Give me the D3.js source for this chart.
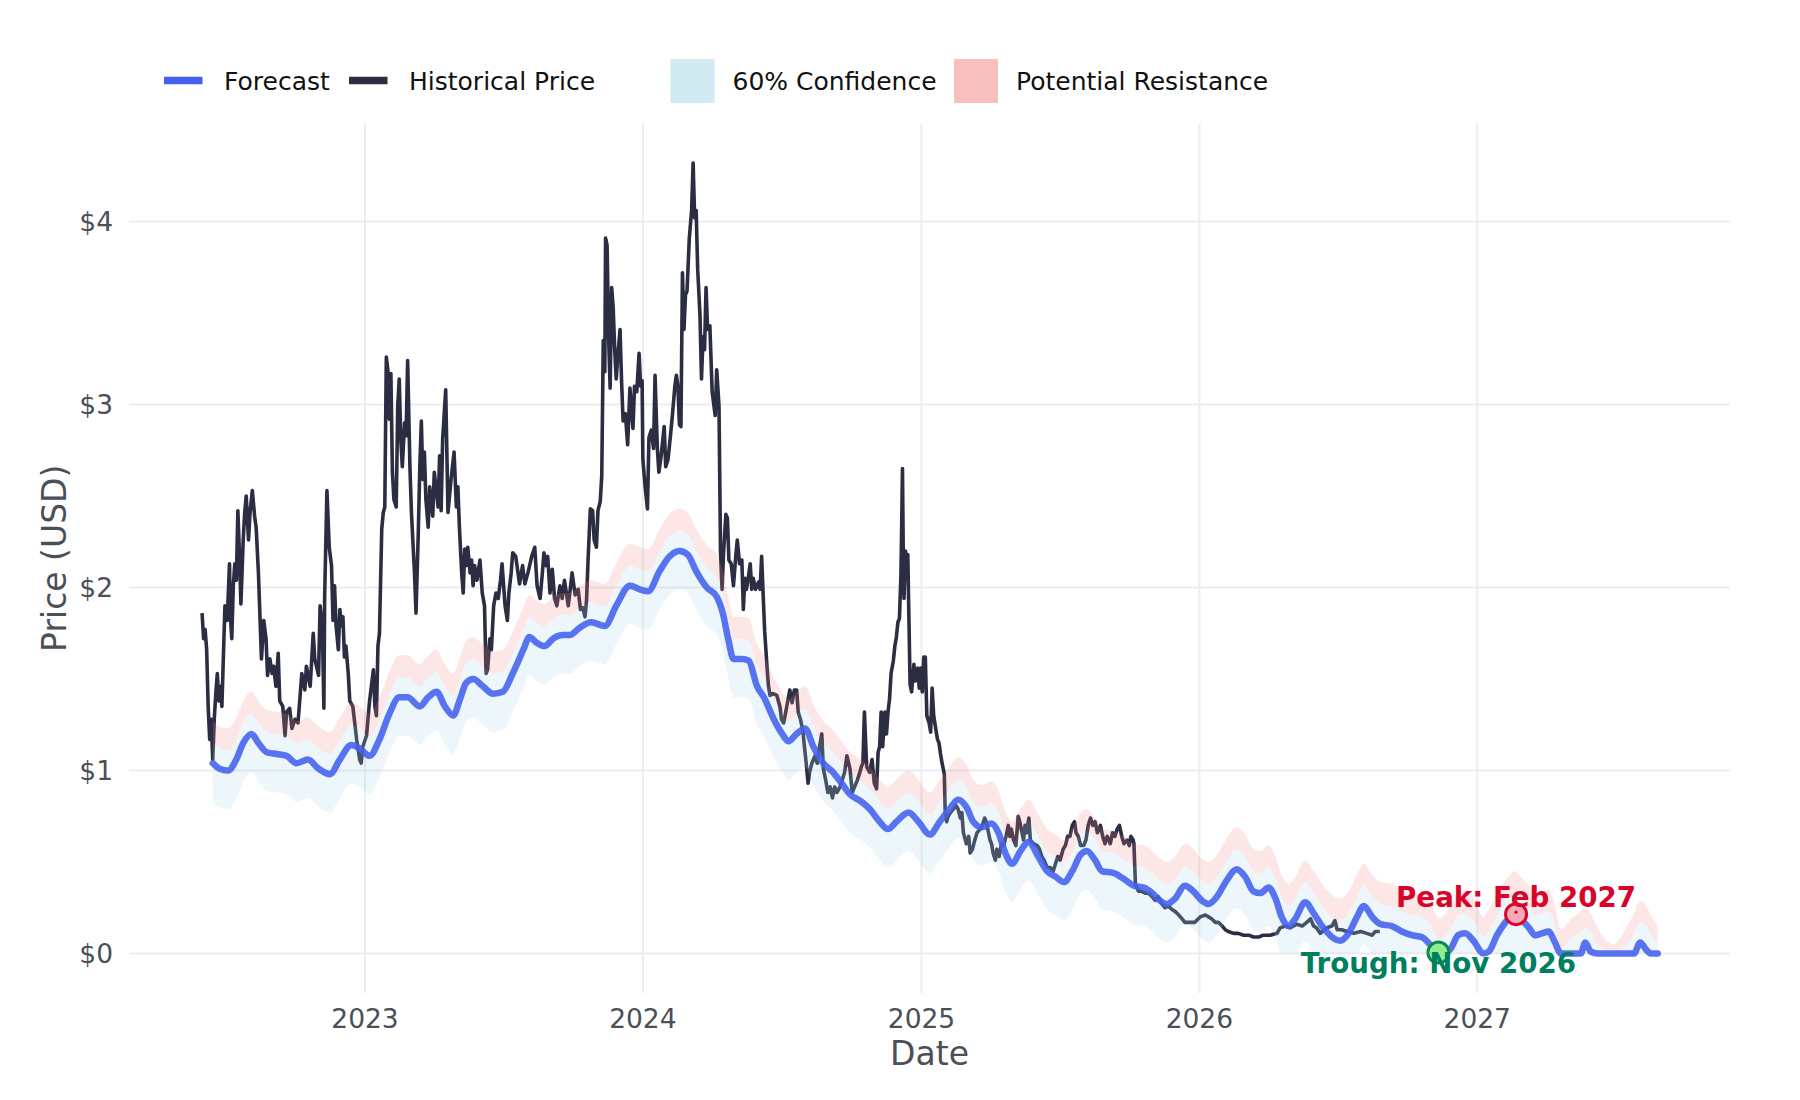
<!DOCTYPE html>
<html>
<head>
<meta charset="utf-8">
<script src="https://cdn.jsdelivr.net/npm/d3@7"></script>
<style>
  html, body { margin: 0; padding: 0; background: #fff; }
  svg text { font-family: "DejaVu Sans", sans-serif; }
</style>
</head>
<body>
<svg id="chart" width="1800" height="1100"></svg>
<script>
// historical closing price
const historical = [
  ["2022-06-01",1.86],["2022-06-03",1.72],["2022-06-05",1.77],["2022-06-07",1.66],["2022-06-09",1.35],
  ["2022-06-11",1.17],["2022-06-13",1.28],["2022-06-15",1.06],["2022-06-17",1.28],["2022-06-19",1.42],
  ["2022-06-21",1.53],["2022-06-23",1.38],["2022-06-25",1.46],["2022-06-27",1.35],["2022-07-01",1.90],
  ["2022-07-04",1.82],["2022-07-07",2.13],["2022-07-08",1.86],["2022-07-10",1.72],["2022-07-12",2.01],
  ["2022-07-14",2.13],["2022-07-16",2.04],["2022-07-18",2.42],["2022-07-20",2.19],["2022-07-22",1.91],
  ["2022-07-25",2.26],["2022-07-27",2.41],["2022-07-29",2.50],["2022-08-01",2.26],["2022-08-03",2.41],
  ["2022-08-06",2.53],["2022-08-09",2.39],["2022-08-11",2.33],["2022-08-14",2.08],["2022-08-18",1.61],
  ["2022-08-21",1.82],["2022-08-24",1.72],["2022-08-26",1.52],["2022-08-29",1.61],["2022-09-01",1.53],
  ["2022-09-03",1.57],["2022-09-06",1.46],["2022-09-09",1.64],["2022-09-11",1.38],["2022-09-15",1.35],
  ["2022-09-18",1.19],["2022-09-20",1.32],["2022-09-24",1.34],["2022-09-27",1.23],["2022-10-01",1.28],
  ["2022-10-05",1.26],["2022-10-10",1.53],["2022-10-14",1.44],["2022-10-16",1.57],["2022-10-21",1.46],
  ["2022-10-25",1.75],["2022-10-27",1.61],["2022-11-01",1.52],["2022-11-03",1.90],["2022-11-06",1.79],
  ["2022-11-08",1.34],["2022-11-09",1.95],["2022-11-12",2.53],["2022-11-15",2.22],["2022-11-18",2.12],
  ["2022-11-20",1.82],["2022-11-22",2.01],["2022-11-24",1.79],["2022-11-27",1.66],["2022-11-29",1.88],
  ["2022-12-01",1.79],["2022-12-03",1.84],["2022-12-05",1.62],["2022-12-07",1.68],["2022-12-10",1.53],
  ["2022-12-12",1.38],["2022-12-16",1.35],["2022-12-21",1.17],["2022-12-25",1.06],["2022-12-27",1.04],
  ["2022-12-29",1.13],["2023-01-03",1.19],["2023-01-07",1.38],["2023-01-12",1.55],["2023-01-14",1.35],
  ["2023-01-16",1.30],["2023-01-18",1.68],["2023-01-20",1.75],["2023-01-23",2.32],["2023-01-25",2.41],
  ["2023-01-27",2.44],["2023-01-29",3.26],["2023-01-31",3.19],["2023-02-02",2.92],["2023-02-04",3.17],
  ["2023-02-06",2.63],["2023-02-08",2.48],["2023-02-11",2.44],["2023-02-13",2.99],["2023-02-15",3.14],
  ["2023-02-17",2.81],["2023-02-19",2.66],["2023-02-22",2.90],["2023-02-24",2.83],["2023-02-26",3.24],
  ["2023-03-01",2.66],["2023-03-03",2.41],["2023-03-07",2.08],["2023-03-09",1.86],["2023-03-12",2.30],
  ["2023-03-14",2.66],["2023-03-16",2.91],["2023-03-18",2.59],["2023-03-20",2.74],["2023-03-22",2.48],
  ["2023-03-25",2.33],["2023-03-27",2.55],["2023-03-31",2.39],["2023-04-02",2.63],["2023-04-05",2.52],
  ["2023-04-07",2.44],["2023-04-09",2.72],["2023-04-11",2.42],["2023-04-13",2.81],["2023-04-17",3.08],
  ["2023-04-20",2.41],["2023-04-24",2.59],["2023-04-28",2.74],["2023-05-01",2.44],["2023-05-03",2.55],
  ["2023-05-05",2.33],["2023-05-08",2.08],["2023-05-10",1.97],["2023-05-12",2.21],["2023-05-14",2.12],
  ["2023-05-16",2.22],["2023-05-19",2.08],["2023-05-21",2.15],["2023-05-23",2.01],["2023-05-25",2.12],
  ["2023-05-28",2.04],["2023-06-01",2.15],["2023-06-04",1.97],["2023-06-07",1.90],["2023-06-09",1.53],
  ["2023-06-11",1.55],["2023-06-14",1.72],["2023-06-16",1.66],["2023-06-19",1.90],["2023-06-22",1.97],
  ["2023-06-25",1.94],["2023-06-28",2.04],["2023-06-30",2.13],["2023-07-04",1.90],["2023-07-07",1.82],
  ["2023-07-09",1.97],["2023-07-12",2.08],["2023-07-14",2.19],["2023-07-18",2.17],["2023-07-21",2.08],
  ["2023-07-23",2.02],["2023-07-27",2.12],["2023-07-30",2.02],["2023-08-03",2.08],["2023-08-08",2.17],
  ["2023-08-12",2.22],["2023-08-15",2.01],["2023-08-19",1.94],["2023-08-22",2.08],["2023-08-24",2.19],
  ["2023-08-27",2.12],["2023-08-29",2.17],["2023-09-01",1.97],["2023-09-04",2.10],["2023-09-07",1.94],
  ["2023-09-10",1.90],["2023-09-14",2.01],["2023-09-17",1.94],["2023-09-20",2.04],["2023-09-25",1.90],
  ["2023-09-27",1.97],["2023-09-30",2.08],["2023-10-04",1.96],["2023-10-08",1.99],["2023-10-11",1.88],
  ["2023-10-14",1.89],["2023-10-17",1.84],["2023-10-19",1.93],["2023-10-21",2.15],["2023-10-24",2.43],
  ["2023-10-27",2.42],["2023-10-29",2.26],["2023-11-01",2.22],["2023-11-03",2.42],["2023-11-06",2.47],
  ["2023-11-08",2.61],["2023-11-10",3.35],["2023-11-12",3.18],["2023-11-13",3.91],["2023-11-15",3.87],
  ["2023-11-17",3.37],["2023-11-19",3.09],["2023-11-21",3.64],["2023-11-23",3.53],["2023-11-25",3.30],
  ["2023-11-27",3.14],["2023-11-29",3.26],["2023-12-02",3.41],["2023-12-04",3.13],["2023-12-06",2.91],
  ["2023-12-09",2.95],["2023-12-12",2.78],["2023-12-15",3.09],["2023-12-17",2.97],["2023-12-19",2.87],
  ["2023-12-21",3.10],["2023-12-24",3.07],["2023-12-27",3.28],["2023-12-29",3.10],["2023-12-31",3.13],
  ["2024-01-01",2.70],["2024-01-04",2.55],["2024-01-07",2.43],["2024-01-09",2.82],["2024-01-12",2.86],
  ["2024-01-15",2.76],["2024-01-17",3.16],["2024-01-20",2.76],["2024-01-22",2.63],["2024-01-25",2.72],
  ["2024-01-29",2.88],["2024-01-31",2.66],["2024-02-03",2.70],["2024-02-06",2.82],["2024-02-09",2.95],
  ["2024-02-12",3.10],["2024-02-14",3.16],["2024-02-16",3.10],["2024-02-18",2.89],["2024-02-20",2.88],
  ["2024-02-22",3.72],["2024-02-24",3.41],["2024-02-26",3.60],["2024-02-28",3.62],["2024-03-02",3.91],
  ["2024-03-05",4.06],["2024-03-07",4.32],["2024-03-09",4.02],["2024-03-11",4.06],["2024-03-13",3.74],
  ["2024-03-16",3.49],["2024-03-18",3.14],["2024-03-20",3.37],["2024-03-22",3.30],["2024-03-24",3.64],
  ["2024-03-26",3.41],["2024-03-29",3.43],["2024-04-01",3.07],["2024-04-05",2.94],["2024-04-07",3.19],
  ["2024-04-10",2.99],["2024-04-12",2.19],["2024-04-14",1.99],["2024-04-16",2.19],["2024-04-19",2.40],
  ["2024-04-21",2.38],["2024-04-23",2.15],["2024-04-26",2.13],["2024-04-29",2.01],["2024-05-02",2.17],
  ["2024-05-04",2.26],["2024-05-07",2.13],["2024-05-10",2.15],["2024-05-12",1.88],["2024-05-14",2.05],
  ["2024-05-16",1.99],["2024-05-19",2.07],["2024-05-21",2.13],["2024-05-23",1.99],["2024-05-25",2.05],
  ["2024-05-28",1.99],["2024-06-01",2.03],["2024-06-03",1.99],["2024-06-05",2.17],["2024-06-07",1.96],
  ["2024-06-09",1.76],["2024-06-12",1.57],["2024-06-14",1.46],["2024-06-16",1.41],["2024-06-20",1.42],
  ["2024-06-25",1.41],["2024-06-29",1.35],["2024-07-01",1.28],["2024-07-04",1.26],["2024-07-08",1.35],
  ["2024-07-12",1.44],["2024-07-15",1.37],["2024-07-18",1.44],["2024-07-21",1.44],["2024-07-23",1.32],
  ["2024-07-26",1.28],["2024-07-29",1.22],["2024-08-01",1.10],["2024-08-03",1.02],["2024-08-05",0.93],
  ["2024-08-07",0.99],["2024-08-10",1.04],["2024-08-14",1.08],["2024-08-17",1.04],["2024-08-20",1.13],
  ["2024-08-23",1.20],["2024-08-25",1.01],["2024-08-28",0.95],["2024-08-31",0.88],["2024-09-03",0.91],
  ["2024-09-06",0.85],["2024-09-09",0.91],["2024-09-12",0.88],["2024-09-16",0.91],["2024-09-19",0.95],
  ["2024-09-22",0.99],["2024-09-25",1.08],["2024-09-29",1.01],["2024-10-02",0.88],["2024-10-05",0.91],
  ["2024-10-09",0.95],["2024-10-12",0.99],["2024-10-14",1.02],["2024-10-16",1.04],["2024-10-18",1.32],
  ["2024-10-21",1.02],["2024-10-25",0.99],["2024-10-28",1.06],["2024-10-31",0.93],["2024-11-03",0.90],
  ["2024-11-05",1.10],["2024-11-07",1.13],["2024-11-09",1.32],["2024-11-11",1.13],["2024-11-14",1.32],
  ["2024-11-16",1.20],["2024-11-18",1.32],["2024-11-20",1.39],["2024-11-22",1.53],["2024-11-25",1.60],
  ["2024-11-27",1.68],["2024-11-29",1.73],["2024-12-01",1.81],["2024-12-03",1.83],["2024-12-05",2.07],
  ["2024-12-06",2.35],["2024-12-07",2.65],["2024-12-08",2.20],["2024-12-09",1.94],["2024-12-11",2.20],
  ["2024-12-12",2.07],["2024-12-14",2.18],["2024-12-15",1.94],["2024-12-17",1.47],["2024-12-19",1.43],
  ["2024-12-22",1.58],["2024-12-24",1.49],["2024-12-27",1.56],["2024-12-29",1.45],["2024-12-31",1.56],
  ["2025-01-02",1.43],["2025-01-04",1.62],["2025-01-06",1.62],["2025-01-08",1.30],["2025-01-11",1.26],
  ["2025-01-13",1.21],["2025-01-15",1.45],["2025-01-17",1.30],["2025-01-20",1.22],["2025-01-22",1.17],
  ["2025-01-24",1.15],["2025-01-26",1.09],["2025-01-28",1.04],["2025-01-31",0.98],["2025-02-01",0.79],
  ["2025-02-03",0.72],["2025-02-05",0.75],["2025-02-08",0.77],["2025-02-12",0.79],["2025-02-15",0.81],
  ["2025-02-18",0.79],["2025-02-21",0.74],["2025-02-23",0.77],["2025-02-25",0.66],["2025-03-01",0.60],
  ["2025-03-04",0.64],["2025-03-06",0.55],["2025-03-09",0.57],["2025-03-12",0.62],["2025-03-15",0.66],
  ["2025-03-19",0.68],["2025-03-22",0.70],["2025-03-25",0.74],["2025-03-27",0.72],["2025-03-30",0.66],
  ["2025-04-01",0.62],["2025-04-03",0.60],["2025-04-05",0.55],["2025-04-08",0.51],["2025-04-10",0.57],
  ["2025-04-13",0.53],["2025-04-16",0.60],["2025-04-19",0.59],["2025-04-22",0.64],["2025-04-25",0.70],
  ["2025-04-27",0.64],["2025-04-29",0.68],["2025-05-02",0.62],["2025-05-05",0.59],["2025-05-08",0.75],
  ["2025-05-10",0.72],["2025-05-13",0.66],["2025-05-15",0.62],["2025-05-17",0.70],["2025-05-19",0.66],
  ["2025-05-22",0.74],["2025-05-24",0.62],["2025-05-28",0.60],["2025-06-02",0.59],["2025-06-05",0.57],
  ["2025-06-08",0.53],["2025-06-11",0.51],["2025-06-15",0.47],["2025-06-19",0.47],["2025-06-23",0.45],
  ["2025-06-26",0.49],["2025-06-29",0.53],["2025-07-02",0.51],["2025-07-06",0.57],["2025-07-09",0.59],
  ["2025-07-12",0.64],["2025-07-15",0.64],["2025-07-18",0.70],["2025-07-21",0.72],["2025-07-23",0.66],
  ["2025-07-26",0.64],["2025-07-29",0.59],["2025-08-02",0.59],["2025-08-05",0.62],["2025-08-08",0.70],
  ["2025-08-11",0.74],["2025-08-14",0.70],["2025-08-17",0.72],["2025-08-20",0.66],["2025-08-24",0.70],
  ["2025-08-27",0.64],["2025-08-30",0.60],["2025-09-02",0.64],["2025-09-06",0.60],["2025-09-09",0.66],
  ["2025-09-12",0.64],["2025-09-15",0.68],["2025-09-18",0.70],["2025-09-21",0.64],["2025-09-24",0.60],
  ["2025-09-28",0.62],["2025-10-01",0.59],["2025-10-03",0.64],["2025-10-06",0.62],["2025-10-07",0.60],
  ["2025-10-09",0.38],["2025-10-13",0.34],["2025-10-17",0.34],["2025-10-22",0.33],["2025-10-26",0.33],
  ["2025-10-31",0.31],["2025-11-04",0.29],["2025-11-08",0.31],["2025-11-13",0.27],["2025-11-17",0.25],
  ["2025-11-21",0.26],["2025-11-26",0.24],["2025-11-30",0.23],["2025-12-05",0.21],["2025-12-09",0.19],
  ["2025-12-13",0.17],["2025-12-18",0.17],["2025-12-22",0.17],["2025-12-26",0.17],["2026-01-02",0.20],
  ["2026-01-09",0.21],["2026-01-13",0.20],["2026-01-17",0.19],["2026-01-22",0.17],["2026-01-26",0.17],
  ["2026-01-31",0.15],["2026-02-04",0.13],["2026-02-08",0.12],["2026-02-15",0.11],["2026-02-21",0.11],
  ["2026-02-28",0.10],["2026-03-07",0.10],["2026-03-13",0.09],["2026-03-20",0.09],["2026-03-26",0.10],
  ["2026-04-04",0.10],["2026-04-13",0.11],["2026-04-17",0.14],["2026-04-24",0.15],["2026-04-30",0.14],
  ["2026-05-09",0.16],["2026-05-16",0.15],["2026-05-22",0.17],["2026-05-27",0.19],["2026-05-31",0.15],
  ["2026-06-04",0.14],["2026-06-09",0.11],["2026-06-17",0.14],["2026-06-24",0.15],["2026-06-28",0.18],
  ["2026-07-01",0.13],["2026-07-07",0.13],["2026-07-14",0.12],["2026-07-23",0.11],["2026-08-01",0.12],
  ["2026-08-09",0.11],["2026-08-16",0.10],["2026-08-20",0.12],["2026-08-26",0.12]
];

// forecast line and its bands (same dates, index by index)
const forecast = [
  ["2022-06-15",1.04],["2022-06-24",1.01],["2022-07-05",1.00],["2022-07-16",1.06],["2022-07-25",1.15],
  ["2022-08-05",1.20],["2022-08-14",1.15],["2022-08-25",1.10],["2022-09-07",1.09],["2022-09-20",1.08],
  ["2022-10-03",1.04],["2022-10-18",1.06],["2022-11-01",1.01],["2022-11-16",0.98],["2022-11-29",1.06],
  ["2022-12-14",1.14],["2022-12-25",1.12],["2023-01-07",1.08],["2023-01-20",1.17],["2023-02-02",1.31],
  ["2023-02-15",1.40],["2023-02-26",1.40],["2023-03-14",1.35],["2023-03-25",1.40],["2023-04-05",1.43],
  ["2023-04-16",1.35],["2023-04-27",1.30],["2023-05-05",1.38],["2023-05-14",1.48],["2023-05-23",1.50],
  ["2023-06-05",1.46],["2023-06-18",1.42],["2023-07-01",1.43],["2023-07-14",1.53],["2023-07-28",1.66],
  ["2023-08-05",1.73],["2023-08-14",1.70],["2023-08-25",1.68],["2023-09-05",1.72],["2023-09-18",1.74],
  ["2023-09-27",1.74],["2023-10-10",1.78],["2023-10-25",1.81],["2023-11-12",1.79],["2023-11-27",1.90],
  ["2023-12-15",2.01],["2023-12-28",1.99],["2024-01-08",1.98],["2024-01-23",2.09],["2024-02-05",2.17],
  ["2024-02-18",2.20],["2024-02-29",2.18],["2024-03-11",2.09],["2024-03-25",2.00],["2024-04-07",1.95],
  ["2024-04-15",1.86],["2024-04-22",1.72],["2024-04-29",1.61],["2024-05-10",1.61],["2024-05-19",1.60],
  ["2024-05-30",1.46],["2024-06-08",1.40],["2024-06-21",1.28],["2024-07-02",1.20],["2024-07-10",1.16],
  ["2024-07-21",1.20],["2024-08-01",1.23],["2024-08-12",1.13],["2024-08-25",1.04],["2024-09-07",0.99],
  ["2024-09-18",0.93],["2024-09-29",0.87],["2024-10-14",0.83],["2024-10-25",0.79],["2024-11-07",0.72],
  ["2024-11-18",0.68],["2024-11-29",0.72],["2024-12-15",0.77],["2024-12-28",0.72],["2025-01-12",0.65],
  ["2025-01-25",0.72],["2025-02-07",0.79],["2025-02-18",0.84],["2025-03-01",0.80],["2025-03-10",0.72],
  ["2025-03-21",0.69],["2025-04-03",0.71],["2025-04-12",0.66],["2025-04-21",0.55],["2025-04-30",0.49],
  ["2025-05-11",0.56],["2025-05-22",0.61],["2025-06-02",0.54],["2025-06-15",0.45],["2025-06-26",0.42],
  ["2025-07-07",0.39],["2025-07-18",0.45],["2025-07-29",0.54],["2025-08-06",0.56],["2025-08-17",0.51],
  ["2025-08-26",0.45],["2025-09-10",0.44],["2025-09-23",0.41],["2025-10-07",0.37],["2025-10-20",0.36],
  ["2025-10-31",0.33],["2025-11-10",0.29],["2025-11-19",0.27],["2025-11-30",0.30],["2025-12-13",0.37],
  ["2025-12-24",0.34],["2026-01-04",0.29],["2026-01-13",0.27],["2026-01-24",0.31],["2026-02-06",0.40],
  ["2026-02-19",0.46],["2026-03-02",0.42],["2026-03-13",0.34],["2026-03-22",0.33],["2026-04-02",0.36],
  ["2026-04-11",0.30],["2026-04-19",0.20],["2026-04-28",0.15],["2026-05-07",0.19],["2026-05-20",0.28],
  ["2026-05-31",0.22],["2026-06-13",0.14],["2026-06-24",0.09],["2026-07-05",0.07],["2026-07-16",0.11],
  ["2026-07-27",0.20],["2026-08-05",0.26],["2026-08-16",0.20],["2026-08-27",0.16],["2026-09-11",0.15],
  ["2026-09-24",0.12],["2026-10-07",0.10],["2026-10-20",0.09],["2026-10-31",0.05],["2026-11-12",0.00],
  ["2026-11-26",0.02],["2026-12-07",0.10],["2026-12-16",0.11],["2026-12-27",0.07],["2027-01-09",0.00],
  ["2027-01-16",0.01],["2027-01-27",0.10],["2027-02-07",0.17],["2027-02-20",0.22],["2027-02-27",0.19],
  ["2027-03-10",0.14],["2027-03-18",0.10],["2027-03-27",0.11],["2027-04-05",0.12],["2027-04-12",0.07],
  ["2027-04-21",0.00],["2027-05-04",0.00],["2027-05-17",0.00],["2027-05-23",0.06],["2027-05-30",0.01],
  ["2027-06-08",0.00],["2027-06-29",0.00],["2027-07-17",0.00],["2027-07-26",0.00],["2027-08-03",0.06],
  ["2027-08-11",0.02],["2027-08-17",0.00],["2027-08-26",0.00]
];

const confLower = [
  0.83,0.80,0.79,0.85,0.94, 0.99,0.94,0.89,0.88,0.87, 0.83,0.85,0.80,0.77,0.85,
  0.93,0.91,0.87,0.96,1.10, 1.19,1.19,1.14,1.19,1.22, 1.14,1.09,1.17,1.27,1.29,
  1.25,1.21,1.22,1.32,1.45, 1.52,1.49,1.47,1.51,1.53, 1.53,1.57,1.60,1.58,1.69,
  1.80,1.78,1.77,1.88,1.96, 1.99,1.97,1.88,1.79,1.74, 1.65,1.51,1.40,1.40,1.39,
  1.25,1.19,1.07,0.99,0.95, 0.99,1.02,0.92,0.83,0.78, 0.72,0.66,0.62,0.58,0.51,
  0.47,0.51,0.56,0.51,0.44, 0.51,0.58,0.63,0.59,0.51, 0.48,0.50,0.45,0.34,0.28,
  0.35,0.40,0.33,0.24,0.21, 0.18,0.24,0.33,0.35,0.30, 0.24,0.23,0.20,0.16,0.15,
  0.12,0.08,0.06,0.09,0.16, 0.13,0.08,0.06,0.10,0.19, 0.25,0.21,0.13,0.12,0.15,
  0.09,0.00,0.00,0.00,0.07, 0.01,0.00,0.00,0.00,0.00, 0.00,0.05,0.00,0.00,0.00,
  0.00,0.00,0.00,0.00,0.00, 0.00,0.00,0.00,0.00,0.00, 0.00,0.00,0.00,0.00,0.01,
  0.00,0.00,0.00,0.00,0.00, 0.00,0.00,0.00,0.00,0.00, 0.00,0.00,0.00,0.00,0.00,
  0.00,0.00,0.00
];
const confUpper = [
  1.15,1.12,1.11,1.17,1.26, 1.31,1.26,1.21,1.20,1.19, 1.15,1.17,1.12,1.09,1.17,
  1.25,1.23,1.19,1.28,1.42, 1.51,1.51,1.46,1.51,1.54, 1.46,1.41,1.49,1.59,1.61,
  1.57,1.53,1.54,1.64,1.77, 1.84,1.81,1.79,1.83,1.85, 1.85,1.89,1.92,1.90,2.01,
  2.12,2.10,2.09,2.20,2.28, 2.31,2.29,2.20,2.11,2.06, 1.97,1.83,1.72,1.72,1.71,
  1.57,1.51,1.39,1.31,1.27, 1.31,1.34,1.24,1.15,1.10, 1.04,0.98,0.94,0.90,0.83,
  0.79,0.83,0.88,0.83,0.76, 0.83,0.90,0.95,0.91,0.83, 0.80,0.82,0.77,0.66,0.60,
  0.67,0.72,0.65,0.56,0.53, 0.50,0.56,0.65,0.67,0.62, 0.56,0.55,0.52,0.48,0.47,
  0.44,0.40,0.38,0.41,0.48, 0.45,0.40,0.38,0.42,0.51, 0.57,0.53,0.45,0.44,0.47,
  0.41,0.31,0.26,0.30,0.39, 0.33,0.25,0.20,0.18,0.22, 0.31,0.37,0.31,0.27,0.26,
  0.23,0.21,0.20,0.16,0.08, 0.13,0.21,0.22,0.18,0.09, 0.12,0.21,0.28,0.33,0.30,
  0.25,0.21,0.22,0.23,0.17, 0.03,0.08,0.12,0.14,0.12, 0.05,0.01,0.05,0.11,0.17,
  0.15,0.11,0.06
];
const resistUpper = [
  1.27,1.24,1.23,1.29,1.38, 1.43,1.38,1.33,1.32,1.31, 1.27,1.29,1.24,1.21,1.29,
  1.37,1.35,1.31,1.40,1.54, 1.63,1.63,1.58,1.63,1.66, 1.58,1.53,1.61,1.71,1.73,
  1.69,1.65,1.66,1.76,1.89, 1.96,1.93,1.91,1.95,1.97, 1.97,2.01,2.04,2.02,2.13,
  2.24,2.22,2.21,2.32,2.40, 2.43,2.41,2.32,2.23,2.18, 2.09,1.95,1.84,1.84,1.83,
  1.69,1.63,1.51,1.43,1.39, 1.43,1.46,1.36,1.27,1.22, 1.16,1.10,1.06,1.02,0.95,
  0.91,0.95,1.00,0.95,0.88, 0.95,1.02,1.07,1.03,0.95, 0.92,0.94,0.89,0.78,0.72,
  0.79,0.84,0.77,0.68,0.65, 0.62,0.68,0.77,0.79,0.74, 0.68,0.67,0.64,0.60,0.59,
  0.56,0.52,0.50,0.53,0.60, 0.57,0.52,0.50,0.54,0.63, 0.69,0.65,0.57,0.56,0.59,
  0.53,0.43,0.38,0.42,0.51, 0.45,0.37,0.32,0.30,0.34, 0.43,0.49,0.43,0.39,0.38,
  0.35,0.33,0.32,0.28,0.19, 0.25,0.33,0.34,0.30,0.20, 0.24,0.33,0.40,0.45,0.42,
  0.37,0.33,0.34,0.35,0.28, 0.13,0.19,0.23,0.25,0.22, 0.14,0.05,0.15,0.22,0.29,
  0.26,0.21,0.15
];

const peakPoint = { date: "2027-02-21", value: 0.215, label: "Peak: Feb 2027" };
const troughPoint = { date: "2026-11-11", value: 0.005, label: "Trough: Nov 2026" };

const yearTicks = ["2023-01-01","2024-01-01","2025-01-01","2026-01-01","2027-01-01"];
const priceTicks = [0, 1, 2, 3, 4];
const xDomain = ["2022-02-25", "2027-11-29"];
const yDomain = [-0.216, 4.536];

const legendItems = [
  { label: "Forecast", kind: "line", color: "#4361ee" },
  { label: "Historical Price", kind: "line", color: "#2b2d42" },
  { label: "60% Confidence", kind: "box", color: "rgba(173,216,230,0.55)" },
  { label: "Potential Resistance", kind: "box", color: "rgba(240,128,128,0.5)" }
];

const parse = d3.utcParse("%Y-%m-%d");
const svg = d3.select("#chart");
const W = 1800, H = 1100;
const margin = { top: 123.5, right: 70, bottom: 107, left: 129 };

const x = d3.scaleUtc()
  .domain(xDomain.map(parse))
  .range([margin.left, W - margin.right]);
const y = d3.scaleLinear()
  .domain(yDomain)
  .range([H - margin.bottom, margin.top]);

const textColor = "#4a4f58";
const gridColor = "#ebedf0";

// grid
const grid = svg.append("g");
grid.selectAll("line.h").data(priceTicks).join("line")
  .attr("class", "h")
  .attr("x1", margin.left).attr("x2", W - margin.right)
  .attr("y1", d => y(d)).attr("y2", d => y(d))
  .attr("stroke", gridColor).attr("stroke-width", 2);
grid.selectAll("line.v").data(yearTicks).join("line")
  .attr("class", "v")
  .attr("x1", d => x(parse(d))).attr("x2", d => x(parse(d)))
  .attr("y1", margin.top).attr("y2", H - margin.bottom)
  .attr("stroke", gridColor).attr("stroke-width", 2);

// tick labels
svg.append("g").selectAll("text").data(priceTicks).join("text")
  .attr("x", margin.left - 16).attr("y", d => y(d)).attr("dy", "0.36em")
  .attr("text-anchor", "end").attr("font-size", 26.5).attr("fill", textColor)
  .text(d => "$" + d);
svg.append("g").selectAll("text").data(yearTicks).join("text")
  .attr("x", d => x(parse(d))).attr("y", 1028)
  .attr("text-anchor", "middle").attr("font-size", 26.5).attr("fill", textColor)
  .text(d => d.slice(0, 4));

// axis titles
svg.append("text")
  .attr("x", (margin.left + W - margin.right) / 2).attr("y", 1065)
  .attr("text-anchor", "middle").attr("font-size", 33).attr("fill", textColor)
  .text("Date");
svg.append("text")
  .attr("transform", `translate(66,${(margin.top + H - margin.bottom) / 2}) rotate(-90)`)
  .attr("text-anchor", "middle").attr("font-size", 33).attr("fill", textColor)
  .text("Price (USD)");

const plot = svg.append("g");

// historical price
const histLine = d3.line()
  .x(d => x(parse(d[0])))
  .y(d => y(d[1]));
plot.append("path")
  .datum(historical)
  .attr("d", histLine)
  .attr("fill", "none")
  .attr("stroke", "#2b2d42")
  .attr("stroke-width", 3.6)
  .attr("stroke-linejoin", "round");

// bands (drawn over the history, translucent)
const bandRows = forecast.map((d, i) => ({
  date: parse(d[0]), lo: confLower[i], hi: confUpper[i], res: resistUpper[i]
}));
const confArea = d3.area()
  .x(d => x(d.date)).y0(d => y(d.lo)).y1(d => y(d.hi))
  .curve(d3.curveMonotoneX);
const resArea = d3.area()
  .x(d => x(d.date)).y0(d => y(d.hi)).y1(d => y(d.res))
  .curve(d3.curveMonotoneX);
plot.append("path").datum(bandRows).attr("d", confArea)
  .attr("fill", "rgba(173,216,230,0.22)");
plot.append("path").datum(bandRows).attr("d", resArea)
  .attr("fill", "rgba(240,128,128,0.2)");

// forecast
const fcLine = d3.line()
  .x(d => x(parse(d[0])))
  .y(d => y(d[1]))
  .curve(d3.curveMonotoneX);
plot.append("path")
  .datum(forecast)
  .attr("d", fcLine)
  .attr("fill", "none")
  .attr("stroke", "#4361ee")
  .attr("stroke-opacity", 0.88)
  .attr("stroke-width", 6.5)
  .attr("stroke-linejoin", "round")
  .attr("stroke-linecap", "round");

// peak / trough markers
plot.append("circle")
  .attr("cx", x(parse(troughPoint.date))).attr("cy", y(troughPoint.value))
  .attr("r", 10.5).attr("fill", "#90ee90").attr("stroke", "#0b8a55").attr("stroke-width", 3);
plot.append("circle")
  .attr("cx", x(parse(peakPoint.date))).attr("cy", y(peakPoint.value))
  .attr("r", 10.5).attr("fill", "#f7a9b8").attr("stroke", "#d90429").attr("stroke-width", 3);
plot.append("circle")
  .attr("cx", x(parse(peakPoint.date))).attr("cy", y(peakPoint.value) - 2)
  .attr("r", 1.6).attr("fill", "#d90429");

plot.append("text")
  .attr("x", x(parse(peakPoint.date))).attr("y", y(peakPoint.value) - 7.5)
  .attr("text-anchor", "middle").attr("font-size", 27.7).attr("font-weight", "bold")
  .attr("fill", "#d90429")
  .text(peakPoint.label);
plot.append("text")
  .attr("x", x(parse(troughPoint.date))).attr("y", y(troughPoint.value) + 20.5)
  .attr("text-anchor", "middle").attr("font-size", 27.7).attr("font-weight", "bold")
  .attr("fill", "#007f5f")
  .text(troughPoint.label);

// legend
const legendX = [164, 349, 670.5, 954];
const legend = svg.append("g");
legendItems.forEach((item, i) => {
  const g = legend.append("g").attr("transform", `translate(${legendX[i]},0)`);
  let textX;
  if (item.kind === "line") {
    g.append("line")
      .attr("x1", 0).attr("x2", 38.5).attr("y1", 80.5).attr("y2", 80.5)
      .attr("stroke", item.color).attr("stroke-width", 7.5);
    textX = 60;
  } else {
    g.append("rect")
      .attr("x", 0).attr("y", 59).attr("width", 44).attr("height", 44)
      .attr("fill", item.color);
    textX = 62;
  }
  g.append("text")
    .attr("x", textX).attr("y", 90)
    .attr("font-size", 25).attr("fill", "#111")
    .text(item.label);
});
</script>
</body>
</html>
